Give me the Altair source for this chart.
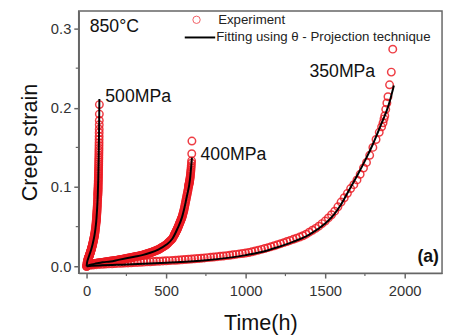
import altair as alt
import pandas as pd

# ---------------- data ----------------
# 350 MPa experiment
t350_exp = [0, 20, 40, 60, 80, 100, 120, 140, 160, 180, 200, 220, 240, 260, 280, 300, 320, 340, 360, 380,
            400, 420, 440, 460, 480, 500, 520, 540, 560, 580, 600, 620, 640, 660, 680, 700, 720, 740, 760, 780,
            800, 820, 840, 860, 880, 900, 920, 940, 960, 980, 1000, 1020, 1040, 1060, 1080, 1100, 1120, 1140,
            1160, 1180, 1200, 1220, 1240, 1260, 1280, 1300, 1320, 1340, 1360, 1380, 1400, 1420, 1440, 1460,
            1480, 1500, 1520, 1540, 1560, 1580, 1600, 1620, 1640, 1660, 1680, 1700, 1720, 1741, 1760, 1780,
            1800, 1820, 1840, 1855, 1864, 1870, 1875, 1881, 1888, 1895, 1905, 1916, 1925]
s350_exp = [0.0000, 0.0011, 0.0016, 0.0020, 0.0023, 0.0025, 0.0027, 0.0030, 0.0032, 0.0034, 0.0036, 0.0038,
            0.0040, 0.0042, 0.0044, 0.0046, 0.0048, 0.0050, 0.0052, 0.0055, 0.0057, 0.0059, 0.0062, 0.0064,
            0.0067, 0.0069, 0.0071, 0.0074, 0.0076, 0.0079, 0.0082, 0.0085, 0.0088, 0.0091, 0.0095, 0.0098,
            0.0101, 0.0105, 0.0109, 0.0113, 0.0117, 0.0121, 0.0125, 0.0129, 0.0134, 0.0139, 0.0145, 0.0150,
            0.0156, 0.0161, 0.0166, 0.0174, 0.0183, 0.0193, 0.0203, 0.0213, 0.0224, 0.0235, 0.0247, 0.0259,
            0.0272, 0.0285, 0.0298, 0.0312, 0.0326, 0.0340, 0.0354, 0.0368, 0.0385, 0.0405, 0.0430, 0.0454,
            0.0478, 0.0506, 0.0538, 0.0570, 0.0610, 0.0650, 0.0695, 0.0750, 0.0810, 0.0865, 0.0920, 0.0980,
            0.1030, 0.1090, 0.1160, 0.1240, 0.1310, 0.1400, 0.1500, 0.1600, 0.1690, 0.1760, 0.1810, 0.1860,
            0.1900, 0.1980, 0.2060, 0.2140, 0.2290, 0.2450, 0.2740]

# 400 MPa experiment
t400_exp = [0, 5, 10, 15, 20, 25, 30, 35, 40, 45, 50, 55, 60, 65, 70, 75, 80, 85, 90, 95, 100, 105, 110, 115,
            120, 125, 130, 135, 140, 145, 150, 155, 160, 165, 170, 175, 180, 185, 190, 195, 200, 205, 210, 215,
            220, 225, 230, 235, 240, 245, 250, 255, 260, 265, 270, 275, 280, 285, 290, 295, 300, 305, 310, 315,
            320, 325, 330, 335, 340, 345, 350, 355, 360, 365, 370, 375, 380, 385, 390, 395, 400, 405, 410, 415,
            420, 425, 430, 435, 440, 445, 450, 455, 460, 465, 470, 475, 480, 485, 490, 495, 500, 505, 510, 515,
            520, 525, 530, 535, 540, 545, 550, 552, 554, 556, 558, 560, 562, 564, 566, 568, 570, 572, 574, 576,
            578, 580, 582, 584, 586, 588, 590, 592, 594, 596, 598, 600, 602, 604, 606, 608, 610, 612, 614, 616,
            618, 620, 622, 624, 626, 628, 630, 632, 634, 636, 638, 640, 641, 642, 643, 644, 645, 646, 647, 648,
            649, 650, 651, 652, 653, 654, 655, 656, 657, 658, 659, 660, 661, 662]
s400_exp = [0.0000, 0.0012, 0.0018, 0.0021, 0.0024, 0.0026, 0.0028, 0.0030, 0.0031, 0.0033, 0.0034, 0.0036,
            0.0037, 0.0039, 0.0040, 0.0042, 0.0043, 0.0045, 0.0046, 0.0048, 0.0049, 0.0050, 0.0051, 0.0053,
            0.0054, 0.0056, 0.0057, 0.0059, 0.0060, 0.0062, 0.0063, 0.0065, 0.0066, 0.0068, 0.0069, 0.0071,
            0.0072, 0.0074, 0.0075, 0.0077, 0.0079, 0.0081, 0.0082, 0.0084, 0.0086, 0.0088, 0.0090, 0.0092,
            0.0094, 0.0096, 0.0098, 0.0100, 0.0102, 0.0104, 0.0106, 0.0108, 0.0110, 0.0112, 0.0114, 0.0116,
            0.0118, 0.0120, 0.0122, 0.0124, 0.0126, 0.0128, 0.0130, 0.0132, 0.0135, 0.0137, 0.0140, 0.0143,
            0.0146, 0.0149, 0.0152, 0.0155, 0.0158, 0.0161, 0.0164, 0.0167, 0.0170, 0.0173, 0.0177, 0.0181,
            0.0185, 0.0189, 0.0193, 0.0197, 0.0201, 0.0205, 0.0210, 0.0215, 0.0220, 0.0227, 0.0235, 0.0240,
            0.0245, 0.0251, 0.0258, 0.0264, 0.0270, 0.0280, 0.0290, 0.0300, 0.0310, 0.0320, 0.0330, 0.0340,
            0.0350, 0.0370, 0.0390, 0.0398, 0.0406, 0.0414, 0.0422, 0.0430, 0.0438, 0.0446, 0.0454, 0.0462,
            0.0470, 0.0480, 0.0490, 0.0500, 0.0510, 0.0520, 0.0530, 0.0540, 0.0550, 0.0560, 0.0570, 0.0580,
            0.0590, 0.0600, 0.0610, 0.0620, 0.0635, 0.0650, 0.0665, 0.0680, 0.0695, 0.0710, 0.0730, 0.0750,
            0.0770, 0.0790, 0.0810, 0.0830, 0.0850, 0.0870, 0.0890, 0.0910, 0.0930, 0.0950, 0.0970, 0.0995,
            0.1010, 0.1020, 0.1030, 0.1040, 0.1050, 0.1060, 0.1070, 0.1083, 0.1096, 0.1110, 0.1125, 0.1140,
            0.1160, 0.1180, 0.1200, 0.1220, 0.1245, 0.1270, 0.1300, 0.1330, 0.1420, 0.1580]

# 500 MPa experiment
t500_exp = [0, 1, 2, 3, 4, 5, 6, 7, 8, 9, 10, 11, 12, 13, 14, 15, 16, 17, 18, 19, 20, 21, 22, 23, 24, 25, 26,
            27, 28, 29, 30, 31, 32, 33, 34, 35, 36, 37, 38, 39, 40, 41, 42, 43, 44, 45, 46, 47, 48, 49, 50, 51,
            52, 53, 54, 55, 56, 57, 58, 59, 60, 60.5, 61, 61.5, 62, 62.5, 63, 63.5, 64, 64.5, 65, 65.5, 66,
            66.5, 67, 67.5, 68, 68.5, 69, 69.5, 70, 70.25, 70.5, 70.75, 71, 71.25, 71.5, 71.75, 72, 72.25,
            72.5, 72.75, 73, 73.25, 73.5, 73.75, 74, 74.25, 74.5, 74.75, 75, 75.25, 75.5, 75.75, 76, 76.25,
            76.5, 76.75, 77, 77.25, 77.5, 77.75, 78, 78.25, 78.5, 78.75, 79, 79.25, 79.5, 79.75, 80]
s500_exp = [0.0000, 0.0020, 0.0035, 0.0045, 0.0055, 0.0065, 0.0072, 0.0079, 0.0085, 0.0092, 0.0100, 0.0105,
            0.0110, 0.0115, 0.0120, 0.0125, 0.0130, 0.0136, 0.0142, 0.0148, 0.0155, 0.0161, 0.0167, 0.0173,
            0.0180, 0.0186, 0.0192, 0.0198, 0.0205, 0.0212, 0.0220, 0.0227, 0.0235, 0.0242, 0.0250, 0.0257,
            0.0265, 0.0273, 0.0282, 0.0291, 0.0300, 0.0309, 0.0318, 0.0327, 0.0337, 0.0347, 0.0357, 0.0367,
            0.0378, 0.0389, 0.0400, 0.0412, 0.0425, 0.0440, 0.0455, 0.0472, 0.0490, 0.0507, 0.0525, 0.0542,
            0.0560, 0.0572, 0.0585, 0.0597, 0.0610, 0.0625, 0.0640, 0.0655, 0.0670, 0.0685, 0.0700, 0.0717,
            0.0735, 0.0752, 0.0770, 0.0790, 0.0810, 0.0830, 0.0850, 0.0870, 0.0890, 0.0902, 0.0915, 0.0927,
            0.0940, 0.0952, 0.0965, 0.0980, 0.0995, 0.1012, 0.1030, 0.1047, 0.1065, 0.1082, 0.1100, 0.1120,
            0.1140, 0.1160, 0.1180, 0.1202, 0.1225, 0.1247, 0.1270, 0.1295, 0.1320, 0.1345, 0.1370, 0.1400,
            0.1430, 0.1460, 0.1490, 0.1525, 0.1560, 0.1600, 0.1640, 0.1685, 0.1730, 0.1785, 0.1840, 0.1920,
            0.2040]

# theta-projection fits
t350_fit = [0, 100, 250, 500, 750, 1000, 1100, 1200, 1300, 1400, 1500, 1550, 1600, 1650, 1700, 1750, 1800,
            1850, 1900, 1932]
s350_fit = [0.0, 0.0012, 0.0022, 0.0045, 0.0075, 0.0140, 0.0180, 0.0240, 0.0310, 0.0400, 0.0540, 0.0640,
            0.0780, 0.0960, 0.1140, 0.1330, 0.1540, 0.1780, 0.2040, 0.2280]
t400_fit = [0, 25, 50, 100, 150, 200, 250, 300, 350, 400, 450, 500, 540, 570, 600, 630, 650, 662]
s400_fit = [0.0, 0.0020, 0.0030, 0.0050, 0.0060, 0.0080, 0.0100, 0.0120, 0.0140, 0.0170, 0.0210, 0.0270,
            0.0350, 0.0470, 0.0620, 0.0880, 0.1100, 0.1370]
t500_fit = [0, 2, 5, 10, 15, 20, 30, 40, 50, 55, 60, 65, 70, 73, 76, 78, 80]
s500_fit = [0.0, 0.0040, 0.0070, 0.0100, 0.0130, 0.0160, 0.0220, 0.0300, 0.0400, 0.0470, 0.0560, 0.0700,
            0.0900, 0.1100, 0.1400, 0.1700, 0.2110]

# annotations
ann_text = ["500MPa", "400MPa", "350MPa", "850°C"]
ann_t = [117, 716, 1401, 19]
ann_s = [0.214, 0.140, 0.245, 0.302]

x_ticks = [0, 500, 1000, 1500, 2000]
x_minor = [250, 750, 1250, 1750]
y_ticks = [0.0, 0.1, 0.2, 0.3]
y_minor = [0.05, 0.15, 0.25]

# ---------------- tables ----------------
def mk(t, s, name):
    return pd.DataFrame({"t": t, "s": s, "series": name})

exp_df = pd.concat([mk(t350_exp, s350_exp, "350"), mk(t400_exp, s400_exp, "400"),
                    mk(t500_exp, s500_exp, "500")])
fit_df = pd.concat([mk(t350_fit, s350_fit, "350"), mk(t400_fit, s400_fit, "400"),
                    mk(t500_fit, s500_fit, "500")])
ann_df = pd.DataFrame({"t": ann_t, "s": ann_s, "text": ann_text})

FONT = "Liberation Sans"
RED = "#ec1c24"
W, H = 370, 267
xs = alt.Scale(domain=[-50, 2235], nice=False, zero=False)
ys = alt.Scale(domain=[-0.0087, 0.3222], nice=False, zero=False)

x_enc = alt.X("t:Q", scale=xs, title="Time(h)",
              axis=alt.Axis(values=x_ticks, format="d", titlePadding=14, labelPadding=6))
y_enc = alt.Y("s:Q", scale=ys, title="Creep strain",
              axis=alt.Axis(values=y_ticks, format=".1f", titlePadding=9, labelPadding=3))

points = alt.Chart(exp_df).mark_point(shape="circle", filled=False, size=58, strokeWidth=1.5,
                                      color=RED, opacity=0.85).encode(
    x=x_enc, y=y_enc, detail="series:N")

lines = alt.Chart(fit_df).mark_line(color="black", strokeWidth=2, interpolate="monotone").encode(
    x=alt.X("t:Q", scale=xs), y=alt.Y("s:Q", scale=ys), detail="series:N", order="t:Q")

labels = alt.Chart(ann_df).mark_text(align="left", baseline="middle", font=FONT, fontSize=18,
                                     color="#111").encode(
    x=alt.X("t:Q", scale=xs), y=alt.Y("s:Q", scale=ys), text="text:N")

tag = alt.Chart(pd.DataFrame({"t": [2216], "s": [0.012], "text": ["(a)"]})).mark_text(
    align="right", baseline="middle", font=FONT, fontSize=18, fontWeight="bold", color="#111").encode(
    x=alt.X("t:Q", scale=xs), y=alt.Y("s:Q", scale=ys), text="text:N")

# minor ticks
ymin_ticks = alt.Chart(pd.DataFrame({"s": y_minor})).mark_rule(color="#666", strokeWidth=1.2).encode(
    y=alt.Y("s:Q", scale=ys), x=alt.value(-3), x2=alt.value(0))
xmin_ticks = alt.Chart(pd.DataFrame({"t": x_minor})).mark_rule(color="#666", strokeWidth=1.2).encode(
    x=alt.X("t:Q", scale=xs), y=alt.value(H), y2=alt.value(H + 3))

# legend
leg_circle = alt.Chart(pd.DataFrame({"k": [0]})).mark_point(shape="circle", filled=False, size=56,
                                                            strokeWidth=1, color=RED).encode(
    x=alt.value(120), y=alt.value(9))
leg_line = alt.Chart(pd.DataFrame({"k": [0]})).mark_rule(color="black", strokeWidth=2).encode(
    x=alt.value(108), x2=alt.value(139), y=alt.value(27))
leg_text = alt.Chart(pd.DataFrame({"txt": ["Experiment", "Fitting using θ - Projection technique"],
                                   "px": [142, 140], "py": [9, 27]})).mark_text(
    align="left", baseline="middle", font=FONT, fontSize=13.5, color="#222").encode(
    x=alt.X("px:Q", scale=None), y=alt.Y("py:Q", scale=None), text="txt:N")

chart = alt.layer(points, lines, labels, tag, ymin_ticks, xmin_ticks, leg_circle, leg_line, leg_text).properties(
    width=W, height=H,
    autosize=alt.AutoSizeParams(type="none"),
    padding={"left": 72, "top": 0, "right": 2, "bottom": 61},
).configure_view(stroke="#666", strokeWidth=1.5).configure_axis(
    grid=False, domainColor="#666", domainWidth=1.5, tickColor="#666", tickWidth=1.5, tickSize=5,
    labelFont=FONT, labelFontSize=15, labelColor="#333", titleFont=FONT, titleFontSize=22,
    titleFontWeight="normal", titleColor="#111")

chart.save("out.html", embed_options={"renderer": "svg", "actions": False})
